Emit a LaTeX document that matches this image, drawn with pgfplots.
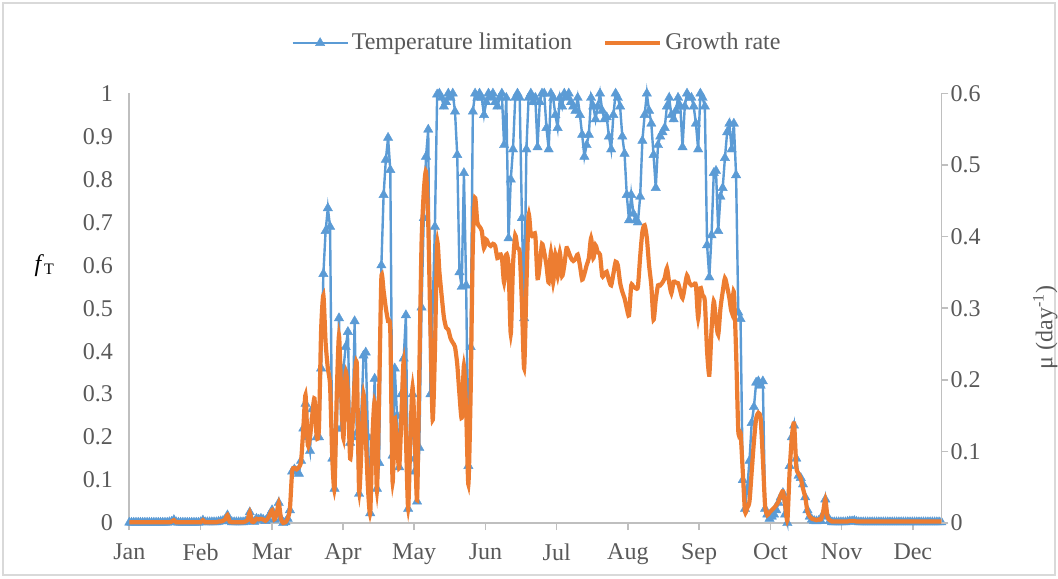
\documentclass[border=0pt]{standalone}
\usepackage{pgfplots}
\pgfplotsset{compat=1.18}
\usepackage{pgfplotstable}
\usepackage{fontspec}
\setmainfont{Liberation Serif}

\definecolor{tblue}{RGB}{91,155,213}
\definecolor{gorange}{RGB}{237,125,49}
\definecolor{txtgrey}{RGB}{89,89,89}
\definecolor{axgrey}{RGB}{191,191,191}
\definecolor{framegrey}{RGB}{217,217,217}

% day of year, temperature limitation f_T, growth rate mu (1/day)
\pgfplotstableread{
d fT mu
0 0.001 0.001
1 0.001 0.001
2 0.001 0.001
3 0.001 0.001
4 0.001 0.001
5 0.001 0.001
6 0.001 0.001
7 0.001 0.001
8 0.001 0.001
9 0.001 0.001
10 0.001 0.001
11 0.001 0.001
12 0.001 0.001
13 0.001 0.001
14 0.001 0.001
15 0.001 0.001
16 0.001 0.001
17 0.001 0.001
18 0.002 0.001
19 0.003 0.002
20 0.007 0.004
21 0.002 0.001
22 0.001 0.001
23 0.001 0.001
24 0.001 0.001
25 0.001 0.001
26 0.001 0.001
27 0.001 0.001
28 0.001 0.001
29 0.001 0.001
30 0.001 0.001
31 0.001 0.001
32 0.002 0.001
33 0.006 0.004
34 0.002 0.001
35 0.002 0.001
36 0.002 0.001
37 0.002 0.001
38 0.002 0.001
39 0.002 0.001
40 0.003 0.002
41 0.004 0.002
42 0.005 0.003
43 0.008 0.005
44 0.018 0.011
45 0.004 0.002
46 0.002 0.001
47 0.002 0.001
48 0.002 0.001
49 0.002 0.001
50 0.002 0.001
51 0.002 0.001
52 0.003 0.002
53 0.006 0.004
54 0.025 0.015
55 0.004 0.002
56 0.003 0.002
57 0.010 0.006
58 0.008 0.005
59 0.010 0.006
60 0.008 0.005
61 0.005 0.003
62 0.010 0.006
63 0.020 0.012
64 0.030 0.018
65 0.008 0.005
66 0.020 0.012
67 0.047 0.028
68 0.010 0.006
69 0.000 0.000
70 0.002 0.001
71 0.010 0.006
72 0.030 0.020
73 0.120 0.072
74 0.125 0.077
75 0.120 0.075
76 0.115 0.078
77 0.145 0.086
78 0.220 0.132
79 0.278 0.179
80 0.200 0.109
81 0.168 0.120
82 0.265 0.150
83 0.250 0.174
84 0.200 0.120
85 0.200 0.132
86 0.360 0.270
87 0.580 0.318
88 0.680 0.252
89 0.733 0.216
90 0.690 0.192
91 0.150 0.090
92 0.080 0.048
93 0.220 0.180
94 0.477 0.262
95 0.220 0.180
96 0.360 0.118
97 0.410 0.210
98 0.445 0.180
99 0.187 0.090
100 0.200 0.132
101 0.470 0.198
102 0.210 0.221
103 0.068 0.045
104 0.250 0.100
105 0.390 0.180
106 0.397 0.120
107 0.200 0.048
108 0.023 0.014
109 0.200 0.120
110 0.336 0.168
111 0.080 0.045
112 0.140 0.180
113 0.600 0.343
114 0.764 0.324
115 0.846 0.300
116 0.897 0.282
117 0.822 0.268
118 0.157 0.058
119 0.360 0.146
120 0.250 0.108
121 0.130 0.077
122 0.300 0.150
123 0.383 0.226
124 0.484 0.120
125 0.033 0.020
126 0.150 0.120
127 0.300 0.190
128 0.120 0.120
129 0.050 0.032
130 0.175 0.210
131 0.502 0.390
132 0.710 0.462
133 0.853 0.491
134 0.916 0.420
135 0.300 0.270
136 0.500 0.144
137 0.690 0.240
138 0.998 0.391
139 1.000 0.351
140 0.990 0.318
141 0.970 0.288
142 0.980 0.273
143 1.000 0.270
144 0.990 0.258
145 1.000 0.252
146 0.958 0.246
147 0.857 0.222
148 0.584 0.180
149 0.550 0.147
150 0.815 0.220
151 0.553 0.156
152 0.133 0.054
153 0.410 0.180
154 0.958 0.390
155 1.000 0.454
156 0.990 0.420
157 1.000 0.414
158 0.990 0.408
159 0.950 0.384
160 0.980 0.396
161 1.000 0.390
162 0.990 0.387
163 1.000 0.390
164 0.980 0.387
165 0.970 0.370
166 0.990 0.375
167 1.000 0.372
168 0.880 0.336
169 0.990 0.375
170 0.663 0.360
171 0.800 0.264
172 0.870 0.360
173 0.990 0.402
174 1.000 0.384
175 0.990 0.378
176 0.710 0.306
177 0.477 0.216
178 0.870 0.330
179 0.990 0.430
180 1.000 0.402
181 0.980 0.402
182 0.990 0.402
183 0.875 0.342
184 0.980 0.360
185 1.000 0.390
186 1.000 0.378
187 0.920 0.360
188 0.870 0.336
189 1.000 0.378
190 0.990 0.336
191 0.950 0.375
192 0.920 0.345
193 0.990 0.378
194 0.970 0.345
195 1.000 0.360
196 0.990 0.384
197 1.000 0.378
198 0.980 0.370
199 0.970 0.366
200 0.960 0.369
201 0.990 0.375
202 0.950 0.360
203 0.904 0.340
204 0.853 0.348
205 0.880 0.360
206 0.904 0.370
207 0.990 0.398
208 0.970 0.370
209 0.940 0.388
210 0.970 0.378
211 1.000 0.375
212 0.960 0.345
213 0.940 0.348
214 0.945 0.351
215 0.900 0.339
216 0.870 0.332
217 0.950 0.348
218 1.000 0.365
219 0.990 0.360
220 0.970 0.336
221 0.900 0.323
222 0.860 0.314
223 0.764 0.300
224 0.705 0.290
225 0.764 0.332
226 0.720 0.330
227 0.705 0.328
228 0.700 0.330
229 0.760 0.372
230 0.890 0.407
231 0.950 0.416
232 1.000 0.398
233 0.960 0.360
234 0.930 0.332
235 0.857 0.284
236 0.780 0.312
237 0.880 0.332
238 0.900 0.332
239 0.910 0.336
240 0.920 0.342
241 0.970 0.356
242 0.990 0.336
243 0.950 0.321
244 0.940 0.337
245 0.960 0.336
246 0.990 0.335
247 0.970 0.324
248 0.875 0.314
249 0.970 0.330
250 1.000 0.346
251 0.990 0.336
252 0.990 0.332
253 0.970 0.333
254 0.930 0.332
255 0.870 0.286
256 1.000 0.328
257 0.990 0.318
258 0.970 0.310
259 0.647 0.240
260 0.572 0.207
261 0.670 0.270
262 0.815 0.310
263 0.820 0.282
264 0.680 0.263
265 0.760 0.300
266 0.780 0.323
267 0.850 0.342
268 0.910 0.330
269 0.930 0.314
270 0.870 0.295
271 0.930 0.323
272 0.810 0.240
273 0.490 0.128
274 0.475 0.126
275 0.100 0.072
276 0.033 0.016
277 0.080 0.021
278 0.145 0.030
279 0.233 0.072
280 0.270 0.114
281 0.327 0.146
282 0.330 0.154
283 0.320 0.146
284 0.330 0.090
285 0.033 0.024
286 0.020 0.011
287 0.010 0.015
288 0.015 0.018
289 0.020 0.021
290 0.030 0.025
291 0.047 0.030
292 0.060 0.039
293 0.070 0.044
294 0.020 0.025
295 0.000 0.004
296 0.133 0.072
297 0.200 0.120
298 0.227 0.139
299 0.150 0.078
300 0.110 0.069
301 0.105 0.062
302 0.090 0.048
303 0.060 0.036
304 0.030 0.016
305 0.015 0.009
306 0.008 0.006
307 0.005 0.005
308 0.004 0.004
309 0.005 0.005
310 0.005 0.005
311 0.020 0.015
312 0.055 0.033
313 0.015 0.008
314 0.005 0.004
315 0.002 0.002
316 0.002 0.002
317 0.002 0.002
318 0.002 0.002
319 0.002 0.002
320 0.002 0.002
321 0.002 0.002
322 0.003 0.002
323 0.004 0.003
324 0.004 0.003
325 0.005 0.003
326 0.003 0.002
327 0.002 0.002
328 0.002 0.002
329 0.002 0.002
330 0.002 0.002
331 0.002 0.002
332 0.002 0.002
333 0.002 0.002
334 0.002 0.002
335 0.002 0.002
336 0.002 0.002
337 0.002 0.002
338 0.002 0.002
339 0.002 0.002
340 0.002 0.002
341 0.002 0.002
342 0.002 0.002
343 0.002 0.002
344 0.002 0.002
345 0.002 0.002
346 0.002 0.002
347 0.002 0.002
348 0.002 0.002
349 0.002 0.002
350 0.002 0.002
351 0.002 0.002
352 0.002 0.002
353 0.002 0.002
354 0.002 0.002
355 0.002 0.002
356 0.002 0.002
357 0.002 0.002
358 0.002 0.002
359 0.002 0.002
360 0.002 0.002
361 0.002 0.002
362 0.002 0.002
363 0.002 0.002
364 0.002 0.002
}\seasontable

\pgfplotsset{
  seasonbase/.style={
    scale only axis,
    width=406pt, height=214.75pt,
    xmin=0, xmax=364,
    xtick={0,31.93,63.86,95.79,127.72,159.65,191.58,223.51,255.44,287.37,319.3,351.23},
    xticklabels={Jan,Feb,Mar,Apr,May,Jun,Jul,Aug,Sep,Oct,Nov,Dec},
    tick align=outside,
    major tick length=3.5pt,
    axis line style={axgrey, line width=0.8pt},
    tick style={axgrey, line width=0.8pt},
    tick label style={font=\fontsize{12}{14}\selectfont, text=txtgrey},
    label style={font=\fontsize{12}{14}\selectfont, text=txtgrey},
    clip=false,
  },
  fTstyle/.style={tblue, line width=1.2pt, mark=triangle*, mark size=2.7pt,
    mark options={fill=tblue, draw=tblue, line width=0.2pt}},
}

\begin{document}
\begin{tikzpicture}
\path[use as bounding box] (-64.65pt,-27.5pt) rectangle (464.35pt,261.5pt);
\draw[framegrey, line width=0.8pt] (-63.15pt,-26pt) rectangle (462.85pt,260pt);

% left axis: temperature limitation
\begin{axis}[
  seasonbase,
  axis x line*=bottom,
  axis y line*=left,
  ymin=0, ymax=1,
  ytick={0,0.1,0.2,0.3,0.4,0.5,0.6,0.7,0.8,0.9,1},
  yticklabels={0,0.1,0.2,0.3,0.4,0.5,0.6,0.7,0.8,0.9,1},
  ytick style={draw=none},
  yticklabel style={inner sep=0pt, xshift=-4.5pt},
  xticklabel style={yshift=-3.5pt},
  ylabel={\textit{f}\textsubscript{T}},
  ylabel style={at={(axis description cs:-0.104,0.6)}, anchor=center, rotate=-90, text=black},
]
\addplot[fTstyle] table[x=d, y=fT] {\seasontable};
\end{axis}

% right axis: growth rate
\begin{axis}[
  seasonbase,
  axis x line=none,
  axis y line*=right,
  ymin=0, ymax=0.6,
  ytick={0,0.1,0.2,0.3,0.4,0.5,0.6},
  yticklabels={0,0.1,0.2,0.3,0.4,0.5,0.6},
  yticklabel style={inner sep=0pt, xshift=1pt},
  ylabel={μ (day\textsuperscript{-1})},
  ylabel style={at={(axis description cs:1.128,0.456)}, anchor=center, rotate=0},
  legend columns=2,
  legend style={at={(axis description cs:0.5027,1.1176)}, anchor=center,
    draw=none, fill=none, font=\fontsize{12}{14}\selectfont, text=txtgrey,
    /tikz/every even column/.append style={column sep=14pt},
    nodes={inner sep=1.5pt}},
  legend image code/.code={
    \draw[mark repeat=2, mark phase=2, #1]
      plot coordinates {(0pt,0pt) (13.75pt,0pt) (27.5pt,0pt)};
  },
]
\addlegendimage{fTstyle}
\addlegendentry{Temperature limitation}
\addplot[gorange, line width=2.1pt, smooth, tension=0.4, no markers]
  table[x=d, y=mu] {\seasontable};
\addlegendentry{Growth rate}
\end{axis}
\end{tikzpicture}
\end{document}
